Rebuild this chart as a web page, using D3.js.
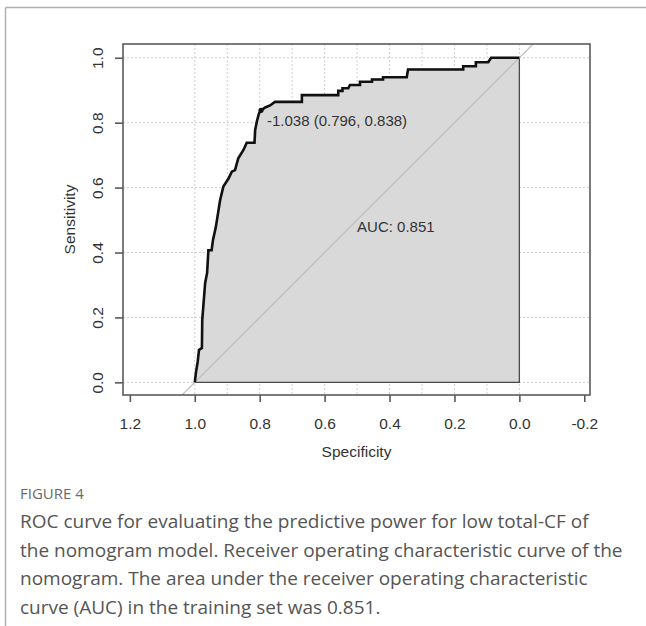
<!DOCTYPE html>
<html>
<head>
<meta charset="utf-8">
<script src="https://cdn.jsdelivr.net/npm/d3@7"></script>
<style>
  html, body { margin: 0; padding: 0; background: #fff; }
  svg { display: block; }
</style>
</head>
<body>
<svg id="chart" width="646" height="626"></svg>
<script>
// ROC curve vertices (specificity, sensitivity), from (1,0) to (0,1)
const specificity = [1.000, 0.996, 0.991, 0.987, 0.978, 0.977, 0.968, 0.962, 0.958, 0.948,
  0.944, 0.935, 0.922, 0.912, 0.896, 0.886, 0.876, 0.866, 0.850, 0.840,
  0.816, 0.814, 0.809, 0.802, 0.796, 0.783, 0.768, 0.753, 0.670, 0.670,
  0.558, 0.558, 0.545, 0.545, 0.527, 0.522, 0.491, 0.491, 0.454, 0.454,
  0.420, 0.420, 0.347, 0.343, 0.173, 0.173, 0.134, 0.134, 0.096, 0.087, 0.000];
const sensitivity = [0.000, 0.033, 0.063, 0.100, 0.106, 0.192, 0.306, 0.337, 0.407, 0.407,
  0.438, 0.479, 0.561, 0.603, 0.628, 0.649, 0.654, 0.690, 0.716, 0.738,
  0.738, 0.777, 0.803, 0.829, 0.838, 0.847, 0.853, 0.864, 0.864, 0.885,
  0.885, 0.898, 0.898, 0.906, 0.906, 0.916, 0.916, 0.926, 0.926, 0.933,
  0.933, 0.940, 0.940, 0.964, 0.964, 0.974, 0.974, 0.986, 0.986, 1.000, 1.000];

const xTicks = [1.2, 1.0, 0.8, 0.6, 0.4, 0.2, 0.0, -0.2];
const yTicks = [0.0, 0.2, 0.4, 0.6, 0.8, 1.0];
const xGrid = [1.0, 0.9, 0.8, 0.7, 0.6, 0.5, 0.4, 0.3, 0.2, 0.1, 0.0];
const yGrid = [0.0, 0.2, 0.4, 0.6, 0.8, 1.0];

const bestThreshold = -1.038;
const bestSpec = 0.796;
const bestSens = 0.838;
const aucValue = 0.851;

const captionTitle = "FIGURE 4";
const captionLines = [
  "ROC curve for evaluating the predictive power for low total-CF of",
  "the nomogram model. Receiver operating characteristic curve of the",
  "nomogram. The area under the receiver operating characteristic",
  "curve (AUC) in the training set was 0.851."
];

const svg = d3.select("#chart");
const rFont = "Liberation Sans, Arial, sans-serif";
const fmt = d => d.toFixed(1);

// page frame
svg.append("line").attr("x1", 5.5).attr("x2", 646).attr("y1", 7.5).attr("y2", 7.5)
  .attr("stroke", "#b0b0b0").attr("stroke-width", 1.5);
svg.append("line").attr("x1", 5.5).attr("x2", 5.5).attr("y1", 7.5).attr("y2", 626)
  .attr("stroke", "#b0b0b0").attr("stroke-width", 1.5);

const box = { left: 123, right: 590, top: 44, bottom: 395 };
const x = d3.scaleLinear().domain([1.2211, -0.2176]).range([box.left, box.right]);
const y = d3.scaleLinear().domain([-0.0390, 1.0424]).range([box.bottom, box.top]);

const plot = svg.append("g");
svg.append("clipPath").attr("id", "plotclip").append("rect")
  .attr("x", box.left).attr("y", box.top)
  .attr("width", box.right - box.left).attr("height", box.bottom - box.top);

// grid
const gridColor = "#cfcfcf";
plot.selectAll("line.vg").data(xGrid).join("line").attr("class", "vg")
  .attr("x1", d => x(d)).attr("x2", d => x(d))
  .attr("y1", box.top).attr("y2", box.bottom)
  .attr("stroke", gridColor).attr("stroke-width", 1).attr("stroke-dasharray", "2,2");
plot.selectAll("line.hg").data(yGrid).join("line").attr("class", "hg")
  .attr("x1", box.left).attr("x2", box.right)
  .attr("y1", d => y(d)).attr("y2", d => y(d))
  .attr("stroke", gridColor).attr("stroke-width", 1).attr("stroke-dasharray", "2,2");

// AUC polygon
const pts = specificity.map((s, i) => [s, sensitivity[i]]);
const polyPts = pts.concat([[0, 0], [1, 0]]);
plot.append("path")
  .attr("d", d3.line().x(d => x(d[0])).y(d => y(d[1]))(polyPts) + "Z")
  .attr("fill", "#d9d9d9").attr("stroke", "#4a4a4a").attr("stroke-width", 1.3);

// diagonal
plot.append("line")
  .attr("clip-path", "url(#plotclip)")
  .attr("x1", x(1.1)).attr("y1", y(-0.1)).attr("x2", x(-0.1)).attr("y2", y(1.1))
  .attr("stroke", "#bdbdbd").attr("stroke-width", 1.2);

// ROC curve
plot.append("path")
  .attr("d", d3.line().x(d => x(d[0])).y(d => y(d[1]))(pts))
  .attr("fill", "none").attr("stroke", "#111").attr("stroke-width", 2.6)
  .attr("stroke-linejoin", "miter");

// threshold point + label
plot.append("circle").attr("cx", x(bestSpec)).attr("cy", y(bestSens)).attr("r", 2.6).attr("fill", "#111");
plot.append("text")
  .attr("x", x(bestSpec) + 6).attr("y", y(bestSens) + 16)
  .attr("font-family", rFont).attr("font-size", 15)
  .attr("fill", "#333")
  .text(`${bestThreshold.toFixed(3)} (${bestSpec.toFixed(3)}, ${bestSens.toFixed(3)})`);

// AUC label
plot.append("text")
  .attr("x", x(0.5)).attr("y", y(0.5) + 12)
  .attr("font-family", rFont).attr("font-size", 15)
  .attr("fill", "#333")
  .text(`AUC: ${aucValue.toFixed(3)}`);

// box
svg.append("rect").attr("x", box.left).attr("y", box.top)
  .attr("width", box.right - box.left).attr("height", box.bottom - box.top)
  .attr("fill", "none").attr("stroke", "#5a5a5a").attr("stroke-width", 1.6);

// x axis
const xAxis = svg.append("g").attr("transform", `translate(0,${box.bottom})`)
  .call(d3.axisBottom(x).tickValues(xTicks).tickFormat(fmt).tickSize(7));
xAxis.select(".domain").remove();
xAxis.selectAll("line").attr("stroke", "#5a5a5a").attr("stroke-width", 1.6);
xAxis.selectAll("text").attr("font-family", rFont)
  .attr("font-size", 15.5).attr("fill", "#333").attr("dy", null).attr("y", 34);

// y axis
const yAxis = svg.append("g").attr("transform", `translate(${box.left},0)`)
  .call(d3.axisLeft(y).tickValues(yTicks).tickFormat(fmt).tickSize(8));
yAxis.select(".domain").remove();
yAxis.selectAll("line").attr("stroke", "#5a5a5a").attr("stroke-width", 1.6);
yAxis.selectAll("text")
  .attr("font-family", rFont).attr("font-size", 15.5).attr("fill", "#333")
  .attr("x", null).attr("dy", null)
  .attr("text-anchor", "middle")
  .attr("transform", "translate(-20.5,0) rotate(-90)");

// axis titles
svg.append("text").attr("x", (box.left + box.right) / 2).attr("y", 457)
  .attr("text-anchor", "middle")
  .attr("font-family", rFont).attr("font-size", 15.5).attr("fill", "#333")
  .text("Specificity");
svg.append("text")
  .attr("transform", `translate(75,${(box.top + box.bottom) / 2}) rotate(-90)`)
  .attr("text-anchor", "middle")
  .attr("font-family", rFont).attr("font-size", 15.5).attr("fill", "#333")
  .text("Sensitivity");

// caption
svg.append("text").attr("x", 20).attr("y", 499)
  .attr("font-family", "Open Sans, sans-serif").attr("font-size", 15).attr("fill", "#6b6b6b")
  .text(captionTitle);
svg.selectAll("text.cap").data(captionLines).join("text").attr("class", "cap")
  .attr("x", 20).attr("y", (d, i) => 528 + i * 28.5)
  .attr("font-family", "Open Sans, sans-serif").attr("font-size", 19).attr("fill", "#555")
  .text(d => d);
</script>
</body>
</html>
